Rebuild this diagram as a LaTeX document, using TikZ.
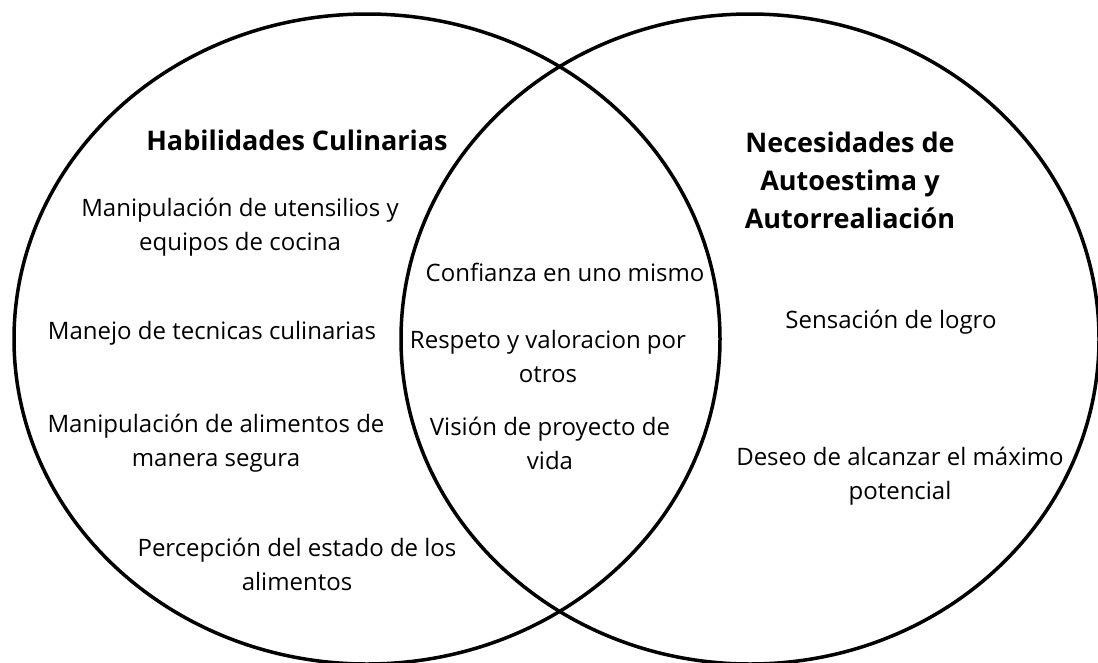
\documentclass[tikz,border=0pt]{standalone}
\usepackage{fontspec}
\setmainfont{Open Sans}
\usepackage{tikz}
\usetikzlibrary{shapes.geometric}

\tikzset{
    setbox/.style={draw, ellipse, line width=3.5pt, minimum width=706pt, minimum height=650pt},
    heading/.style={align=center, font=\fontsize{27}{38}\selectfont\bfseries},
    entry/.style={align=center, font=\fontsize{24}{34}\selectfont}
}

\begin{document}
\begin{tikzpicture}[x=1pt, y=-1pt]
    \useasboundingbox (0,0) rectangle (1098,662);
    % the two sets
    \node[setbox] (habil) at (367,339) {};
    \node[setbox, minimum width=698pt] (necesid) at (750,339) {};

    % left set
    \node[heading] (habiltitle) at (297,140) {Habilidades Culinarias};
    \node[entry] (utensil) at (240,227) {Manipulación de utensilios y\\equipos de cocina};
    \node[entry] (tecnica) at (212,333) {Manejo de tecnicas culinarias};
    \node[entry] (segura) at (216,443) {Manipulación de alimentos de\\manera segura};
    \node[entry] (estado) at (297,564) {Percepción del estado de los\\alimentos};

    % common part
    \node[entry] (confianza) at (565,272) {Confianza en uno mismo};
    \node[entry] (respeto) at (548,356) {Respeto y valoracion por\\otros};
    \node[entry] (proyecto) at (550,443) {Visión de proyecto de\\vida};

    % right set
    \node[heading] (necesidtitle) at (850,180) {Necesidades de\\Autoestima y\\Autorrealiación};
    \node[entry] (logro) at (891,322) {Sensación de logro};
    \node[entry] (potencial) at (900,476) {Deseo de alcanzar el máximo\\potencial};
\end{tikzpicture}
\end{document}
